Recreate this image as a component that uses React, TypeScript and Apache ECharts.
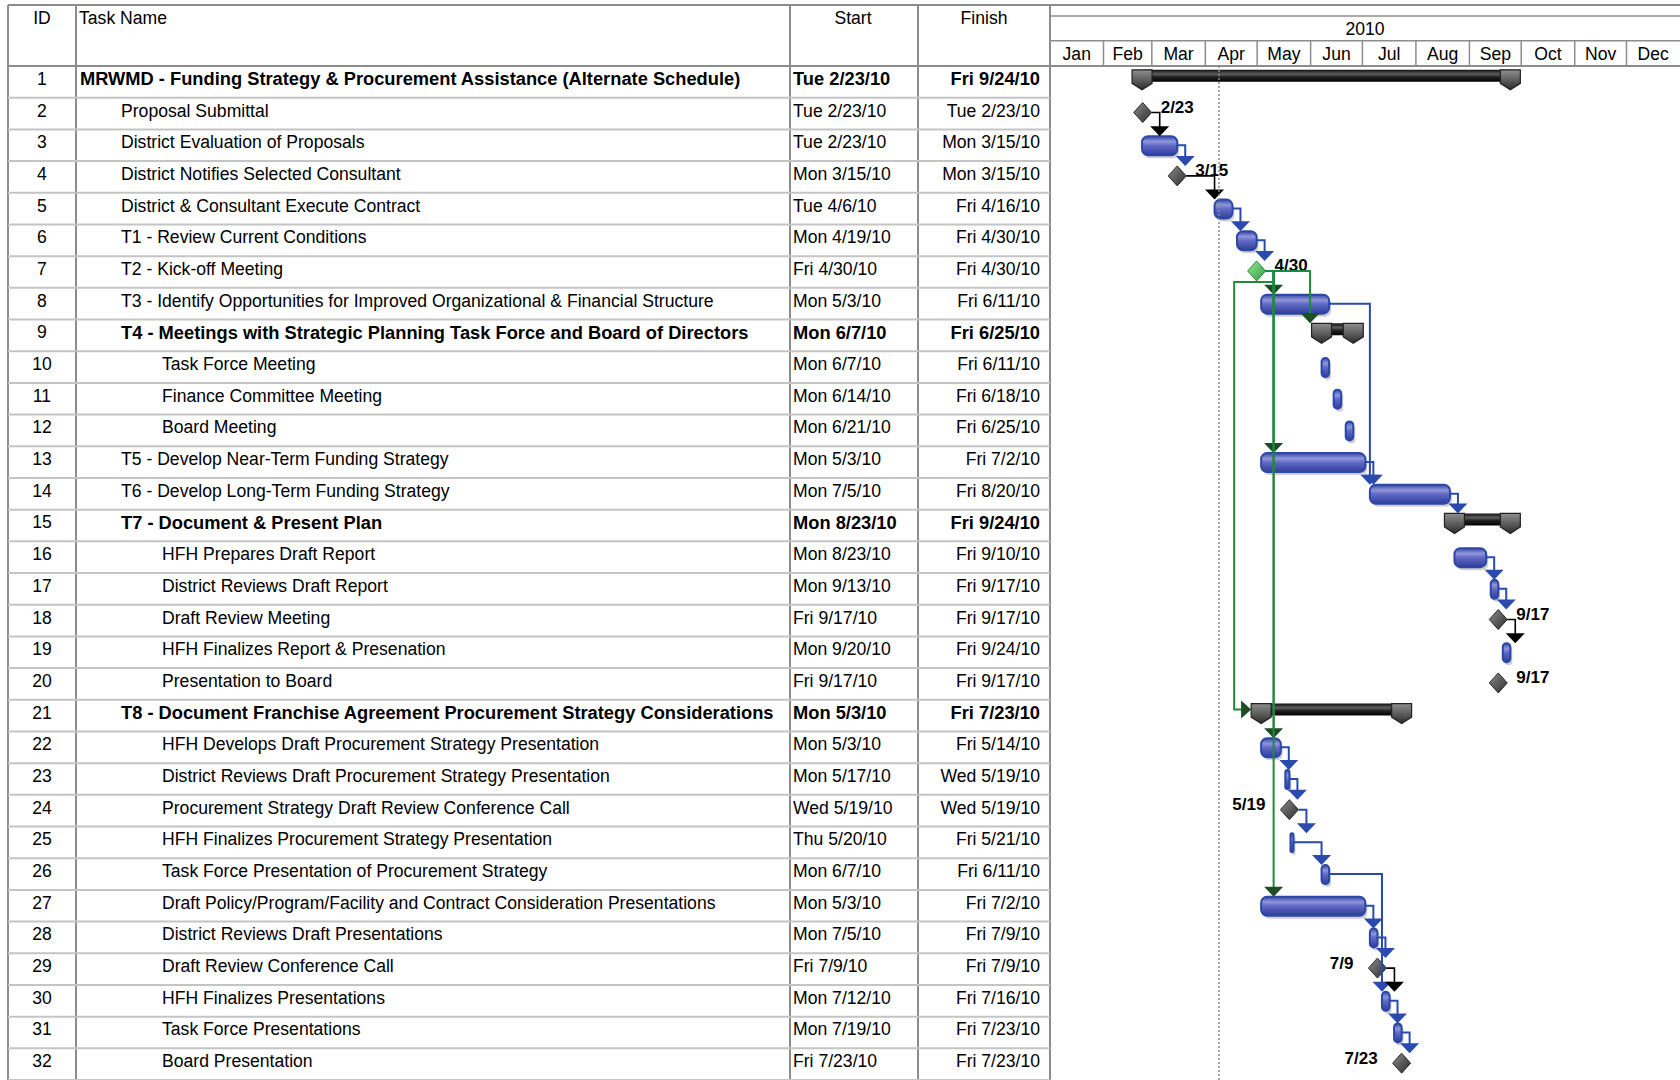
import React, { useEffect, useRef } from "react";
import * as echarts from "echarts";

// ---------------- data ----------------
const taskIds = ["1","2","3","4","5","6","7","8","9","10","11","12","13","14","15","16","17","18","19","20","21","22","23","24","25","26","27","28","29","30","31","32"];

const taskNames = [
  "MRWMD - Funding Strategy & Procurement Assistance (Alternate Schedule)",
  "Proposal Submittal",
  "District Evaluation of Proposals",
  "District Notifies Selected Consultant",
  "District & Consultant Execute Contract",
  "T1 - Review Current Conditions",
  "T2 - Kick-off Meeting",
  "T3 - Identify Opportunities for Improved Organizational & Financial Structure",
  "T4 - Meetings with Strategic Planning Task Force and Board of Directors",
  "Task Force Meeting",
  "Finance Committee Meeting",
  "Board Meeting",
  "T5 - Develop Near-Term Funding Strategy",
  "T6 - Develop Long-Term Funding Strategy",
  "T7 - Document & Present Plan",
  "HFH Prepares Draft Report",
  "District Reviews Draft Report",
  "Draft Review Meeting",
  "HFH Finalizes Report & Presenation",
  "Presentation to Board",
  "T8 - Document Franchise Agreement Procurement Strategy Considerations",
  "HFH Develops Draft Procurement Strategy Presentation",
  "District Reviews Draft Procurement Strategy Presentation",
  "Procurement Strategy Draft Review Conference Call",
  "HFH Finalizes Procurement Strategy Presentation",
  "Task Force Presentation of Procurement Strategy",
  "Draft Policy/Program/Facility and Contract Consideration Presentations",
  "District Reviews Draft Presentations",
  "Draft Review Conference Call",
  "HFH Finalizes Presentations",
  "Task Force Presentations",
  "Board Presentation",
];

const startLabels = [
  "Tue 2/23/10","Tue 2/23/10","Tue 2/23/10","Mon 3/15/10","Tue 4/6/10","Mon 4/19/10","Fri 4/30/10","Mon 5/3/10",
  "Mon 6/7/10","Mon 6/7/10","Mon 6/14/10","Mon 6/21/10","Mon 5/3/10","Mon 7/5/10","Mon 8/23/10","Mon 8/23/10",
  "Mon 9/13/10","Fri 9/17/10","Mon 9/20/10","Fri 9/17/10","Mon 5/3/10","Mon 5/3/10","Mon 5/17/10","Wed 5/19/10",
  "Thu 5/20/10","Mon 6/7/10","Mon 5/3/10","Mon 7/5/10","Fri 7/9/10","Mon 7/12/10","Mon 7/19/10","Fri 7/23/10",
];

const finishLabels = [
  "Fri 9/24/10","Tue 2/23/10","Mon 3/15/10","Mon 3/15/10","Fri 4/16/10","Fri 4/30/10","Fri 4/30/10","Fri 6/11/10",
  "Fri 6/25/10","Fri 6/11/10","Fri 6/18/10","Fri 6/25/10","Fri 7/2/10","Fri 8/20/10","Fri 9/24/10","Fri 9/10/10",
  "Fri 9/17/10","Fri 9/17/10","Fri 9/24/10","Fri 9/17/10","Fri 7/23/10","Fri 5/14/10","Wed 5/19/10","Wed 5/19/10",
  "Fri 5/21/10","Fri 6/11/10","Fri 7/2/10","Fri 7/9/10","Fri 7/9/10","Fri 7/16/10","Fri 7/23/10","Fri 7/23/10",
];

const outlineLevels = [0,1,1,1,1,1,1,1,1,2,2,2,1,1,1,2,2,2,2,2,1,2,2,2,2,2,2,2,2,2,2,2];

// S = summary, T = task, M = milestone
const taskKinds = ["S","M","T","M","T","T","M","T","S","T","T","T","T","T","S","T","T","M","T","M","S","T","T","M","T","T","T","T","M","T","T","M"];

// predecessor -> successor (finish-to-start)
const links = [
  [2,3],[3,4],[4,5],[5,6],[6,7],[7,8],[7,9],[7,13],[7,21],[7,22],[7,27],[8,14],[13,14],[14,15],
  [16,17],[17,18],[18,19],[22,23],[23,24],[24,25],[25,26],[26,30],[27,28],[28,29],[29,30],[30,31],[31,32],
];

const columnTitles = ["ID", "Task Name", "Start", "Finish"];
const yearLabels = ["2010"];
const yearBounds = ["2010-01-01", "2011-01-01"];
const monthLabels = ["Jan","Feb","Mar","Apr","May","Jun","Jul","Aug","Sep","Oct","Nov","Dec"];
const monthStarts = ["2010-01-01","2010-02-01","2010-03-01","2010-04-01","2010-05-01","2010-06-01","2010-07-01","2010-08-01","2010-09-01","2010-10-01","2010-11-01","2010-12-01","2011-01-01"];
const statusDate = "2010-04-08T12:00";

// ---------------- presentation config ----------------
const HIGHLIGHT_MILESTONES = ["7"];
const BLUE_LINK_FROM_MILESTONE = ["24"];
const LEFT_LABEL_ROWS = ["24", "29", "32"];
const W = 1680;
const H = 1080;
const HEADER_TOP = 5;
const TABLE_TOP = 66;
const COLS = [8, 76, 790, 918, 1050];
const FONT = "'Liberation Sans', Arial, Helvetica, sans-serif";
const GRID_LINE = "#8c8c8c";
const ROW_LINE = "#c4c4c4";

function usDate(label: string, hour: number) {
  const [m, d, y] = label.split(" ")[1].split("/").map(Number);
  return new Date(2000 + y, m - 1, d, hour, 0, 0).getTime();
}
function isoDate(s: string) {
  const [dp, tp] = s.split("T");
  const [y, m, d] = dp.split("-").map(Number);
  const [hh, mm] = (tp || "0:0").split(":").map(Number);
  return new Date(y, m - 1, d, hh, mm, 0).getTime();
}

const startTimes = startLabels.map((l) => usDate(l, 8));
const finishTimes = finishLabels.map((l) => usDate(l, 17));

function buildOption() {
  const G = echarts.graphic;
  const blueGrad = new G.LinearGradient(0, 0, 0, 1, [
    { offset: 0, color: "#3646a6" },
    { offset: 0.28, color: "#9096dc" },
    { offset: 0.5, color: "#6069c4" },
    { offset: 1, color: "#2f3c9c" },
  ]);
  const sumGrad = new G.LinearGradient(0, 0, 0, 1, [
    { offset: 0, color: "#111" },
    { offset: 0.35, color: "#5e5e5e" },
    { offset: 0.6, color: "#202020" },
    { offset: 1, color: "#000" },
  ]);
  const capGrad = new G.LinearGradient(0, 0, 0, 1, [
    { offset: 0, color: "#8f8f8f" },
    { offset: 1, color: "#2c2c2c" },
  ]);
  const grayDiamond = new G.LinearGradient(0, 0, 1, 1, [
    { offset: 0, color: "#8e8e8e" },
    { offset: 1, color: "#2a2a2a" },
  ]);
  const greenDiamond = new G.LinearGradient(0, 0, 1, 1, [
    { offset: 0, color: "#9be69b" },
    { offset: 1, color: "#2c9c3e" },
  ]);

  const txt = (text: string, x: number, y: number, align: string, bold: boolean, size?: number) => ({
    type: "text",
    style: {
      text, x, y, fill: "#000", fontSize: size ?? (bold ? 18.3 : 17.6), fontFamily: FONT,
      fontWeight: bold ? "bold" : "normal", align, verticalAlign: "middle",
    },
  });

  const geom = (api: any, i: number) => {
    const k = taskKinds[i];
    const p0 = api.coord([startTimes[i], i + 0.5]);
    const xs = p0[0];
    const c = p0[1];
    const xf = api.coord([finishTimes[i], i + 0.5])[0];
    if (k === "M") return { k, c, startX: xf - 9, barStart: xf - 9, capLeft: xf - 9, right: xf + 9, top: c - 11, anchorY: c - 1, mid: c - 1 };
    if (k === "S") return { k, c, startX: xs - 11.5, barStart: xs, capLeft: xs - 10, right: xf, top: c - 12, anchorY: c - 6, mid: c - 6 };
    return { k, c, startX: xs, barStart: xs, capLeft: xs, right: xf, top: c - 9, anchorY: c, mid: c };
  };

  const minT = isoDate(monthStarts[0]);
  const maxT = isoDate(monthStarts[monthStarts.length - 1]);
  const hiddenAxis = { show: false, axisLine: { show: false }, axisTick: { show: false }, axisLabel: { show: false }, splitLine: { show: false } };
  const rows = taskIds.length;

  const graphic: any[] = [];
  graphic.push({ type: "line", shape: { x1: COLS[0], y1: HEADER_TOP, x2: W, y2: HEADER_TOP }, style: { stroke: GRID_LINE, lineWidth: 2 } });
  graphic.push({ type: "line", shape: { x1: COLS[0], y1: TABLE_TOP, x2: W, y2: TABLE_TOP }, style: { stroke: GRID_LINE, lineWidth: 2 } });
  COLS.forEach((x) => graphic.push({ type: "line", shape: { x1: x, y1: HEADER_TOP, x2: x, y2: H }, style: { stroke: GRID_LINE, lineWidth: 2 } }));
  const titleX = [(COLS[0] + COLS[1]) / 2, COLS[1] + 3, (COLS[2] + COLS[3]) / 2 - 1, (COLS[3] + COLS[4]) / 2];
  const titleAlign = ["center", "left", "center", "center"];
  columnTitles.forEach((t, j) => {
    graphic.push({ type: "text", style: { text: t, x: titleX[j], y: 18, fill: "#000", fontSize: 17.6, fontFamily: FONT, align: titleAlign[j], verticalAlign: "middle" } });
  });

  const series: any[] = [];

  // table rows
  series.push({
    type: "custom", xAxisIndex: 0, yAxisIndex: 0, silent: true,
    data: taskIds.map((_, i) => [0, i + 0.5]),
    encode: { x: 0, y: 1 },
    renderItem: (params: any, api: any) => {
      const i = params.dataIndex;
      const c = api.coord([0, i + 0.5])[1];
      const h = api.size([0, 1])[1];
      const bold = taskKinds[i] === "S";
      const ty = c - 3;
      return {
        type: "group",
        children: [
          { type: "line", shape: { x1: COLS[0], y1: c + h / 2, x2: COLS[4], y2: c + h / 2 }, style: { stroke: ROW_LINE, lineWidth: 2 } },
          txt(taskIds[i], (COLS[0] + COLS[1]) / 2, ty, "center", false),
          txt(taskNames[i], COLS[1] + 4 + outlineLevels[i] * 41, ty, "left", bold),
          txt(startLabels[i], COLS[2] + 3, ty, "left", bold),
          txt(finishLabels[i], COLS[4] - 10, ty, "right", bold),
        ],
      };
    },
  });

  // timescale: year tier
  series.push({
    type: "custom", xAxisIndex: 2, yAxisIndex: 2, silent: true,
    data: yearLabels.map((_, j) => [isoDate(yearBounds[j]), isoDate(yearBounds[j + 1]), 0.5]),
    encode: { x: [0, 1], y: 2 },
    renderItem: (params: any, api: any) => {
      const j = params.dataIndex;
      const x0 = api.coord([api.value(0), 0.5])[0];
      const x1 = api.coord([api.value(1), 0.5])[0];
      const y0 = params.coordSys.y;
      return {
        type: "group",
        children: [
          { type: "line", shape: { x1: x0, y1: y0 + 11, x2: x1, y2: y0 + 11 }, style: { stroke: GRID_LINE, lineWidth: 1.5 } },
          { type: "line", shape: { x1: x0, y1: y0 + 35.7, x2: x1, y2: y0 + 35.7 }, style: { stroke: GRID_LINE, lineWidth: 1.5 } },
          txt(yearLabels[j], (x0 + x1) / 2, y0 + 24, "center", false),
        ],
      };
    },
  });

  // timescale: month tier
  series.push({
    type: "custom", xAxisIndex: 2, yAxisIndex: 2, silent: true,
    data: monthLabels.map((_, j) => [isoDate(monthStarts[j]), isoDate(monthStarts[j + 1]), 0.5]),
    encode: { x: [0, 1], y: 2 },
    renderItem: (params: any, api: any) => {
      const j = params.dataIndex;
      const x0 = api.coord([api.value(0), 0.5])[0];
      const x1 = api.coord([api.value(1), 0.5])[0];
      const y0 = params.coordSys.y;
      const children: any[] = [txt(monthLabels[j], (x0 + x1) / 2, y0 + 48.5, "center", false)];
      if (j > 0) children.push({ type: "line", shape: { x1: x0, y1: y0 + 35.7, x2: x0, y2: y0 + 61 }, style: { stroke: GRID_LINE, lineWidth: 1.5 } });
      return { type: "group", children };
    },
  });

  // gantt bars
  series.push({
    type: "custom", xAxisIndex: 1, yAxisIndex: 1, silent: true, z: 3,
    data: taskIds.map((_, i) => [startTimes[i], finishTimes[i], i + 0.5]),
    encode: { x: [0, 1], y: 2 },
    markLine: {
      silent: true, symbol: "none", label: { show: false },
      lineStyle: { color: "#8a8a8a", type: [2, 2], width: 1.5 },
      data: [{ xAxis: isoDate(statusDate) }],
    },
    renderItem: (params: any, api: any) => {
      const i = params.dataIndex;
      const k = taskKinds[i];
      const g = geom(api, i);
      const c = g.c;
      if (k === "T") {
        const x0 = g.barStart;
        const w = Math.max(g.right - x0, 3);
        const r = Math.min(6, w / 2);
        return {
          type: "group",
          children: [
            { type: "rect", shape: { x: x0 + 2, y: c - 6, width: w, height: 19, r }, style: { fill: "#cfcfcf" } },
            { type: "rect", shape: { x: x0, y: c - 9, width: w, height: 19, r }, style: { fill: blueGrad, stroke: "#2b48a8", lineWidth: 2 } },
          ],
        };
      }
      if (k === "S") {
        const x0 = g.barStart;
        const x1 = g.right;
        const cap = (x: number) => ({
          type: "polygon",
          shape: { points: [[x - 10, c - 12], [x + 10, c - 12], [x + 10, c + 1.5], [x, c + 8], [x - 10, c + 1.5]] },
          style: { fill: capGrad, stroke: "#222", lineWidth: 1.2 },
        });
        return {
          type: "group",
          children: [
            { type: "rect", shape: { x: x0, y: c - 12, width: x1 - x0, height: 12 }, style: { fill: sumGrad } },
            cap(x0),
            cap(x1),
          ],
        };
      }
      const xm = g.right - 9;
      const green = HIGHLIGHT_MILESTONES.includes(taskIds[i]);
      const label = finishLabels[i].split(" ")[1].replace(/\/\d+$/, "");
      const left = LEFT_LABEL_ROWS.includes(taskIds[i]);
      return {
        type: "group",
        children: [
          {
            type: "polygon",
            shape: { points: [[xm, c - 11], [xm + 9, c - 1], [xm, c + 9], [xm - 9, c - 1]] },
            style: { fill: green ? greenDiamond : grayDiamond, stroke: green ? "#2b8a3e" : "#2a2a2a", lineWidth: 1 },
          },
          txt(label, left ? xm - 24 : xm + 18, c - 6, left ? "right" : "left", true, 17),
        ],
      };
    },
  });

  // dependency links
  series.push({
    type: "custom", xAxisIndex: 1, yAxisIndex: 1, silent: true, z: 4,
    data: links.map(([p]) => [finishTimes[p - 1], p - 0.5]),
    encode: { x: 0, y: 1 },
    renderItem: (params: any, api: any) => {
      const [pId, sId] = links[params.dataIndex];
      const p = pId - 1;
      const s = sId - 1;
      const P = geom(api, p);
      const S = geom(api, s);
      let line = "#2a4aae";
      let head = "#2a4aae";
      let lw = 2;
      if (taskKinds[p] === "M" && !BLUE_LINK_FROM_MILESTONE.includes(taskIds[p])) {
        if (HIGHLIGHT_MILESTONES.includes(taskIds[p])) { line = "#1f8a3c"; head = "#1c4d26"; }
        else { line = "#000"; head = "#000"; lw = 1.6; }
      }
      const wrap = S.k === "S" && S.barStart < P.right;
      if (!wrap) {
        const ax = Math.max(S.startX, P.right + 8);
        const tip = S.top;
        return {
          type: "group",
          children: [
            { type: "polyline", shape: { points: [[P.right, P.anchorY], [ax, P.anchorY], [ax, tip - 9]] }, style: { stroke: line, lineWidth: lw, fill: null } },
            { type: "polygon", shape: { points: [[ax - 9.5, tip - 10], [ax + 9.5, tip - 10], [ax, tip]] }, style: { fill: head } },
          ],
        };
      }
      const ex = P.right + 8;
      const dy = P.anchorY + 11;
      const vx = S.capLeft - 17;
      const ty = S.mid;
      return {
        type: "group",
        children: [
          { type: "polyline", shape: { points: [[P.right, P.anchorY], [ex, P.anchorY], [ex, dy], [vx, dy], [vx, ty], [S.capLeft - 9, ty]] }, style: { stroke: line, lineWidth: lw, fill: null } },
          { type: "polygon", shape: { points: [[S.capLeft - 10, ty - 9], [S.capLeft - 10, ty + 9], [S.capLeft, ty]] }, style: { fill: head } },
        ],
      };
    },
  });

  return {
    animation: false,
    backgroundColor: "#ffffff",
    grid: [
      { left: 0, top: TABLE_TOP, width: COLS[4], height: H - TABLE_TOP },
      { left: COLS[4], top: TABLE_TOP, width: W - COLS[4], height: H - TABLE_TOP },
      { left: COLS[4], top: HEADER_TOP, width: W - COLS[4], height: TABLE_TOP - HEADER_TOP },
    ],
    xAxis: [
      { gridIndex: 0, type: "value", min: 0, max: 1, ...hiddenAxis },
      { gridIndex: 1, type: "time", min: minT, max: maxT, ...hiddenAxis },
      { gridIndex: 2, type: "time", min: minT, max: maxT, ...hiddenAxis },
    ],
    yAxis: [
      { gridIndex: 0, type: "value", min: 0, max: rows, inverse: true, ...hiddenAxis },
      { gridIndex: 1, type: "value", min: 0, max: rows, inverse: true, ...hiddenAxis },
      { gridIndex: 2, type: "value", min: 0, max: 1, ...hiddenAxis },
    ],
    graphic,
    series,
  };
}

export default function App() {
  const ref = useRef<HTMLDivElement>(null);
  useEffect(() => {
    if (!ref.current) return;
    const chart = echarts.init(ref.current, null, { renderer: "svg" });
    chart.setOption(buildOption() as any);
    return () => chart.dispose();
  }, []);
  return (
    <div
      ref={ref}
      style={{ position: "fixed", left: 0, top: 0, width: W, height: H, background: "#fff" }}
    />
  );
}
